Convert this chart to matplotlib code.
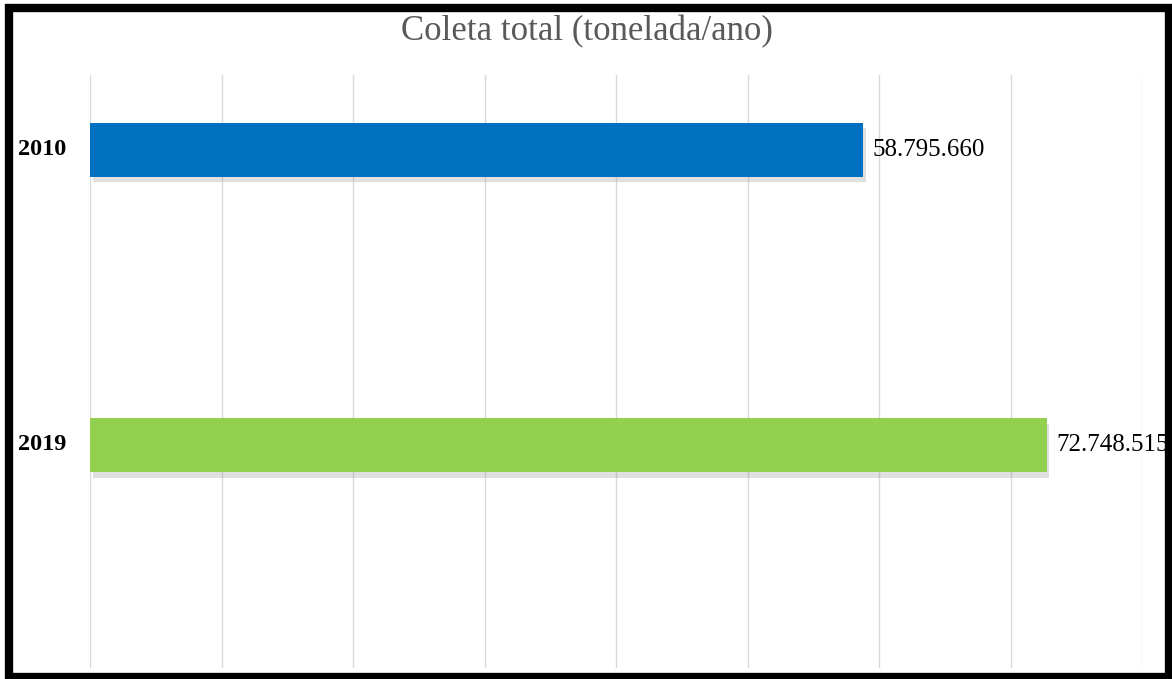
import matplotlib
matplotlib.use("Agg")
import matplotlib.pyplot as plt
import matplotlib.patheffects as pe
from matplotlib.patches import Rectangle

# data
years = ["2010", "2019"]
coleta = [58795660, 72748515]
labels = ["58.795.660", "72.748.515"]
colors = ["#0070C0", "#92D050"]

plt.rcParams['font.family'] = ['Liberation Serif', 'DejaVu Serif']

fig = plt.figure(figsize=(11.72, 6.79), dpi=100)
W, H = 1172, 679
ax = fig.add_axes([90 / W, 1 - 668 / H, (1142 - 90) / W, (668 - 75) / H])

ypos = list(range(len(years)))
bars = ax.barh(ypos, coleta, height=0.183, color=colors, zorder=3)
for b in bars:
    b.set_path_effects([pe.SimplePatchShadow(offset=(2, -4), shadow_rgbFace='#9a9a9a', alpha=0.3),
                        pe.Normal()])

for y, v, lab in zip(ypos, coleta, labels):
    ax.annotate(lab, (v, y), xytext=(7, 0), textcoords='offset points',
                va='center', ha='left', fontsize=18, color='black', zorder=4)

ax.set_xlim(0, 80000000)
ax.set_ylim(1.756, -0.254)
ax.set_xticks(range(0, 80000001, 10000000))
ax.xaxis.grid(True, color='#d9d9d9', linewidth=1, zorder=0)
ax.set_axisbelow(True)
ax.tick_params(axis='x', length=0, labelbottom=False)
ax.tick_params(axis='y', length=0, labelleft=False)
for s in ax.spines.values():
    s.set_visible(False)

# category labels sit against the left border
for y, yr in zip(ypos, years):
    ax.text(-72 / 1052 * 80000000, y, yr, va='center', ha='left', fontsize=17.5,
            fontweight='bold', color='black')

fig.text(587 / W, 1 - 32 / H, "Coleta total (tonelada/ano)", ha='center', va='center',
         fontsize=25, color='#595959')

# black frame around the chart
fig.patches.append(Rectangle((9 / W, 2 / H), (1169 - 9) / W, (671 - 2) / H,
                             transform=fig.transFigure, fill=False, edgecolor='black',
                             linewidth=6, zorder=10))

fig.savefig("out.png", dpi=100)
